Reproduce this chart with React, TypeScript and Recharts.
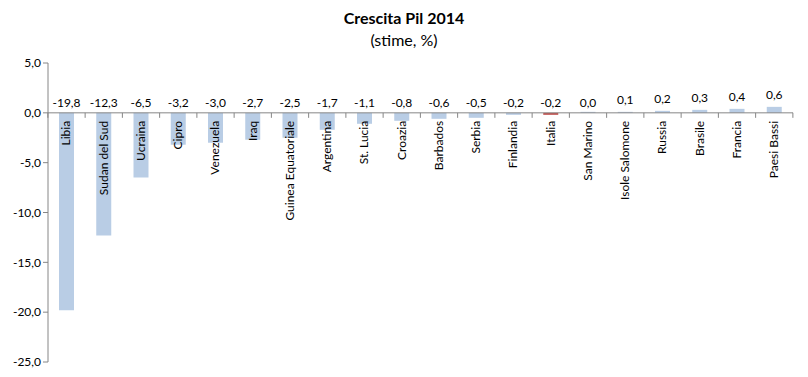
import { BarChart, Bar, YAxis, XAxis, ReferenceLine, LabelList, Cell } from 'recharts'

const categories = [
  'Libia', 'Sudan del Sud', 'Ucraina', 'Cipro', 'Venezuela', 'Iraq',
  'Guinea Equatoriale', 'Argentina', 'St. Lucia', 'Croazia', 'Barbados',
  'Serbia', 'Finlandia', 'Italia', 'San Marino', 'Isole Salomone',
  'Russia', 'Brasile', 'Francia', 'Paesi Bassi',
]
const values = [
  -19.8, -12.3, -6.5, -3.2, -3.0, -2.7, -2.5, -1.7, -1.1, -0.8, -0.6,
  -0.5, -0.2, -0.2, 0.0, 0.1, 0.2, 0.3, 0.4, 0.6,
]
const yTicks = [-25, -20, -15, -10, -5, 0, 5]
const highlighted = 'Italia'

const data = categories.map((name, i) => ({ name, value: values[i] }))

const W = 808
const H = 377
const MARGIN = { top: 63, right: 15, bottom: 15, left: 0 }
const Y_WIDTH = 48
const BAND = (W - MARGIN.left - MARGIN.right - Y_WIDTH) / categories.length

const FONT = 'Lato, "Open Sans", sans-serif'
const BAR = '#b9cde5'
const RED = '#c0504d'
const AXIS = '#868686'

const fmt = (v: number) => v.toFixed(1).replace('.', ',')

// zero line is the edge of the bar nearest the baseline
function zeroOf(y: number, h: number, v: number) {
  const a = y
  const b = y + h
  return v < 0 ? Math.min(a, b) : Math.max(a, b)
}

function ValueLabel(props: any) {
  const { x, y, width, height } = props
  const v = Number(props.value)
  const zero = zeroOf(Number(y), Number(height), v)
  const top = Math.min(Number(y), Number(y) + Number(height))
  const ty = v > 0 ? top - 8 : zero - 6
  return (
    <text x={Number(x) + Number(width) / 2} y={ty} textAnchor="middle" fontSize={12} fill="#000" fontFamily={FONT}>
      {fmt(v)}
    </text>
  )
}

function CategoryLabel(props: any) {
  const { x, y, width, height } = props
  const name = String(props.value)
  const i = categories.indexOf(name)
  const v = values[i]
  const zero = zeroOf(Number(y), Number(height), v)
  const cx = Number(x) + Number(width) / 2
  const left = cx - BAND / 2
  const right = cx + BAND / 2
  return (
    <g>
      <line x1={left} x2={left} y1={zero} y2={zero + 5} stroke={AXIS} />
      {i === categories.length - 1 && (
        <line x1={right} x2={right} y1={zero} y2={zero + 5} stroke={AXIS} />
      )}
      <text
        x={cx + 4}
        y={zero + 8}
        transform={`rotate(-90 ${cx + 4} ${zero + 8})`}
        textAnchor="end"
        fontSize={12}
        fill="#000"
        fontFamily={FONT}
      >
        {name}
      </text>
    </g>
  )
}

export default function App() {
  return (
    <div style={{ position: 'absolute', left: 0, top: 0, width: W, height: H, background: '#fff', fontFamily: FONT }}>
      <div style={{ position: 'absolute', top: 8, left: 0, width: W, textAlign: 'center', fontSize: 16, fontWeight: 700, color: '#000' }}>
        Crescita Pil 2014
      </div>
      <div style={{ position: 'absolute', top: 30, left: 0, width: W, textAlign: 'center', fontSize: 16, color: '#000' }}>
        (stime, %)
      </div>
      <BarChart width={W} height={H} data={data} margin={MARGIN} barSize={15}>
        <XAxis dataKey="name" hide />
        <YAxis
          width={Y_WIDTH}
          domain={[-25, 5]}
          ticks={yTicks}
          interval={0}
          tickFormatter={fmt}
          stroke={AXIS}
          tickSize={5}
          tick={{ fill: '#000', fontSize: 12, fontFamily: FONT }}
        />
        <ReferenceLine y={0} stroke={AXIS} />
        <Bar dataKey="value" isAnimationActive={false} fill={BAR} minPointSize={1}>
          {data.map((d) => (
            <Cell key={d.name} fill={d.name === highlighted ? RED : BAR} />
          ))}
          <LabelList dataKey="value" content={ValueLabel} />
          <LabelList dataKey="name" content={CategoryLabel} />
        </Bar>
      </BarChart>
    </div>
  )
}
